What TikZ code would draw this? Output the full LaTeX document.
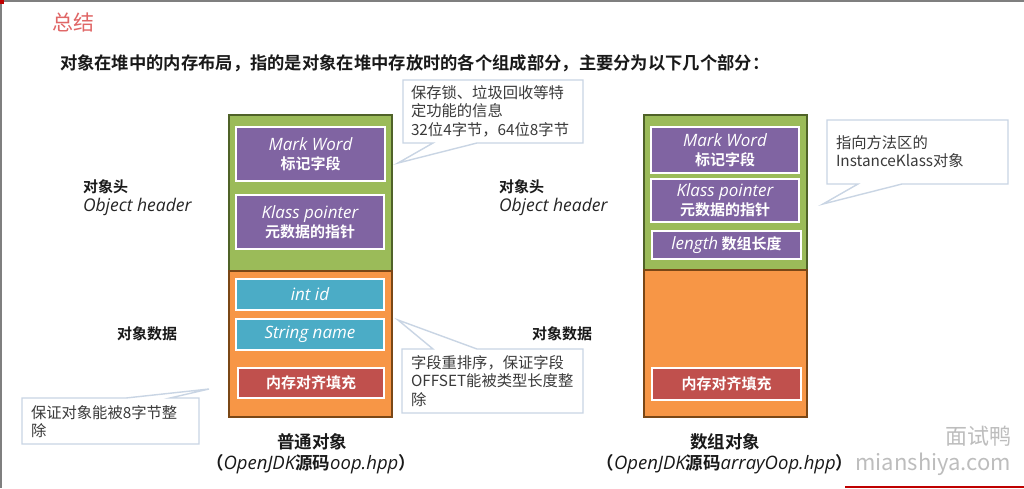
\documentclass[tikz,border=0pt]{standalone}
\usepackage{fontspec}
\setmainfont{Noto Sans CJK SC}[BoldFont={Noto Sans CJK SC Bold}]
\newfontfamily\hand{Open Sans}
\definecolor{hdrfill}{HTML}{9BBB59}
\definecolor{hdrline}{HTML}{4F6228}
\definecolor{datfill}{HTML}{F79646}
\definecolor{datline}{HTML}{7A4716}
\definecolor{purp}{HTML}{8064A2}
\definecolor{cyanf}{HTML}{4BACC6}
\definecolor{redf}{HTML}{C0504D}
\definecolor{callb}{HTML}{C9D5E4}
\definecolor{notegray}{HTML}{3A3A3A}
\definecolor{titlered}{HTML}{E06666}
\definecolor{framegray}{HTML}{7F7F7F}
\definecolor{wmgray}{HTML}{BDBDBD}
\newcommand\hi[1]{{\hand\mdseries\itshape\fontsize{17}{19}\selectfont #1}}
\newcommand\hb[1]{{\hand\mdseries\itshape\fontsize{18.5}{20}\selectfont #1}}
\begin{document}
\begin{tikzpicture}[x=1pt,y=-1pt,
  every node/.style={inner sep=0pt, outer sep=0pt},
  hdr/.style={draw=hdrline, fill=hdrfill, line width=2pt},
  dat/.style={draw=datline, fill=datfill, line width=2pt},
  cell/.style={draw=white, line width=2.5pt, text=white, align=center, font=\bfseries\fontsize{15}{19}\selectfont},
  markc/.style={cell, fill=purp},
  fldc/.style={cell, fill=cyanf},
  padc/.style={cell, fill=redf},
  callout/.style={draw=callb, fill=white, line width=1.4pt, line join=miter},
  note/.style={text=notegray, align=left, anchor=north west, font=\fontsize{15.3}{18.5}\selectfont},
  lblb/.style={anchor=west, text=black!90, font=\bfseries\fontsize{15}{18}\selectfont},
  lbli/.style={anchor=west, text=black!85, font=\hand\itshape\fontsize{17.5}{18}\selectfont},
  capt/.style={text=black!90, font=\bfseries\fontsize{17.5}{20}\selectfont}
]
\useasboundingbox (0,0) rectangle (1024,488);
\fill[white] (0,0) rectangle (1024,488);
% frame
\draw[framegray, line width=1.5pt] (0,0.8) -- (1024,0.8);
\draw[framegray, line width=1.5pt] (0.8,0) -- (0.8,488);
\fill[red!75!black] (0,0) rectangle (4,4);
\draw[red!75!black, line width=2pt] (845,486.5) -- (1024,486.5);

% title
\node[anchor=west, text=titlered, font=\fontsize{21}{24}\selectfont] (title) at (52,22) {总结};
\node[anchor=west, text=black!90, font=\bfseries\fontsize{17.3}{20}\selectfont] (sub) at (60,63)
  {对象在堆中的内存布局，指的是对象在堆中存放时的各个组成部分，主要分为以下几个部分：};

% ---------- left object ----------
\node[hdr, minimum width=163pt, minimum height=156pt] (hdrL) at (310.5,193) {};
\node[dat, minimum width=163pt, minimum height=146pt] (datL) at (310.5,344) {};
\node[markc, minimum width=149pt, minimum height=54pt] (mwL) at (310.5,154) {\hi{Mark Word}\\标记字段};
\node[markc, minimum width=148pt, minimum height=54pt] (kpL) at (310,222) {\hi{Klass pointer}\\元数据的指针};
\node[fldc, minimum width=148pt, minimum height=31pt] (idL) at (310,294.5) {\hi{int id}};
\node[fldc, minimum width=148pt, minimum height=31pt] (nmL) at (310,334.5) {\hi{String name}};
\node[padc, minimum width=146pt, minimum height=30pt] (padL) at (311,383) {内存对齐填充};

\node[lblb] (ohL) at (83,187) {对象头};
\node[lbli] (ohLe) at (83,207) {Object header};
\node[lblb] (odL) at (117,334) {对象数据};
\node[capt] (capL) at (312,442) {普通对象};
\node[capt] (capL2) at (311,464) {（\hb{OpenJDK}源码\hb{oop.hpp}）};

% ---------- right object ----------
\node[hdr, minimum width=163pt, minimum height=155pt] (hdrR) at (725.5,192.5) {};
\node[dat, minimum width=163pt, minimum height=147pt] (datR) at (725.5,343.5) {};
\node[markc, minimum width=148pt, minimum height=46pt] (mwR) at (725,150) {\hi{Mark Word}\\标记字段};
\node[markc, minimum width=148pt, minimum height=43pt] (kpR) at (725,200.5) {\hi{Klass pointer}\\元数据的指针};
\node[markc, minimum width=149pt, minimum height=28pt] (lnR) at (726.5,245) {\hi{length} 数组长度};
\node[padc, minimum width=149pt, minimum height=32pt] (padR) at (726.5,384) {内存对齐填充};

\node[lblb] (ohR) at (499,187) {对象头};
\node[lbli] (ohRe) at (499,207) {Object header};
\node[lblb] (odR) at (532,334) {对象数据};
\node[capt] (capR) at (725,442) {数组对象};
\node[capt] (capR2) at (725,464) {（\hb{OpenJDK}源码\hb{arrayOop.hpp}）};

% ---------- callouts ----------
\coordinate (t1) at (398,163);
\draw[callout] (403,80) -- (583,80) -- (583,143) -- (477,143) -- (t1) -- (433,143) -- (403,143) -- cycle;
\node[note] (n1) at (411,85.5) {保存锁、垃圾回收等特\\定功能的信息\\32位4字节，64位8字节};

\coordinate (t2) at (209,389);
\draw[callout] (22,398) -- (126,398) -- (t2) -- (170,398) -- (199,398) -- (199,444) -- (22,444) -- cycle;
\node[note] (n2) at (31,405.5) {保证对象能被8字节整\\除};

\coordinate (t3) at (398,320);
\draw[callout] (402,349) -- (433,349) -- (t3) -- (477,349) -- (583,349) -- (583,413) -- (402,413) -- cycle;
\node[note] (n3) at (411,355.5) {字段重排序，保证字段\\OFFSET能被类型长度整\\除};

\coordinate (t4) at (823,204);
\draw[callout] (827,120) -- (1008,120) -- (1008,184) -- (902,184) -- (t4) -- (858,184) -- (827,184) -- cycle;
\node[note, font=\fontsize{15.3}{18}\selectfont] (n4) at (836,135.5) {指向方法区的\\InstanceKlass对象};

% watermark
\node[anchor=east, text=wmgray, font=\fontsize{22}{24}\selectfont] (wm1) at (1011,436) {面试鸭};
\node[anchor=east, text=wmgray, font=\fontsize{22}{24}\selectfont] (wm2) at (1011,464) {mianshiya.com};
\end{tikzpicture}
\end{document}
